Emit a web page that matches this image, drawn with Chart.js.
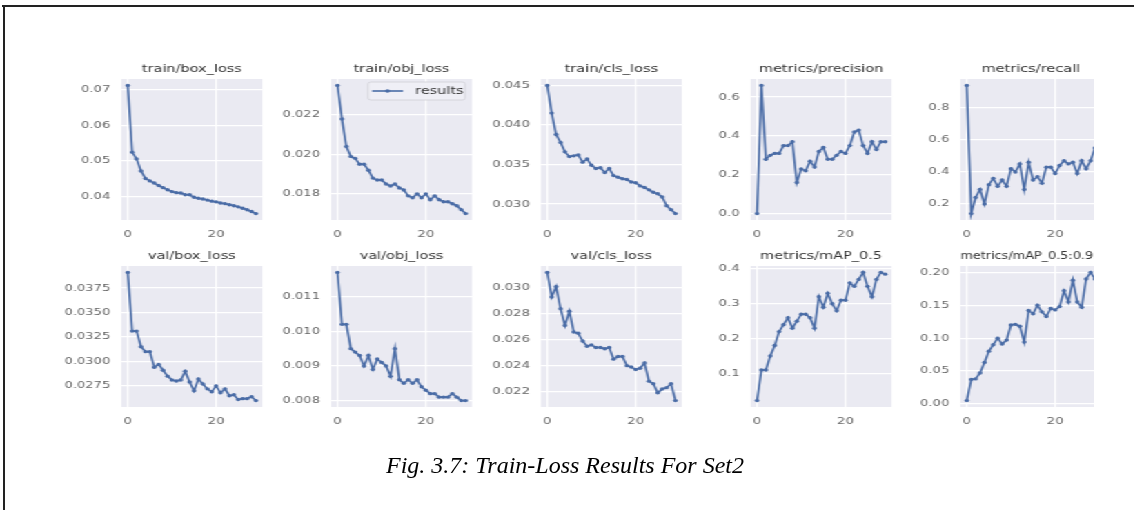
<!DOCTYPE html>
<html><head><meta charset="utf-8">
<script src="https://cdn.jsdelivr.net/npm/chart.js@4.4.1/dist/chart.umd.min.js"></script>
<style>
html,body{margin:0;padding:0;background:#fff;width:1134px;height:510px;overflow:hidden;position:relative;}
#frameTop{position:absolute;left:2px;top:5px;width:1132px;height:2px;background:#222;}
#frameLeft{position:absolute;left:3px;top:5px;width:2px;height:505px;background:#222;}
#fig{position:absolute;left:0;top:0;height:510px;overflow:hidden;transform-origin:0 0;}
#fig canvas{position:absolute;}
#caption{position:absolute;left:0;width:1130px;top:451px;text-align:center;font-family:'Liberation Serif',serif;font-style:italic;font-size:24px;line-height:28px;color:#000;}
</style></head><body>
<div id="frameTop"></div><div id="frameLeft"></div>
<div id="fig"></div>
<div id="caption">Fig. 3.7: Train-Loss Results For Set2</div>
<script>
const epochs = [0,1,2,3,4,5,6,7,8,9,10,11,12,13,14,15,16,17,18,19,20,21,22,23,24,25,26,27,28,29];
const xTickLabels = ['0','20'];

const titles = ['train/box_loss','train/obj_loss','train/cls_loss','metrics/precision','metrics/recall',
                'val/box_loss','val/obj_loss','val/cls_loss','metrics/mAP_0.5','metrics/mAP_0.5:0.95'];
const seriesLabel = 'results';

const trainBoxLoss = [0.0712,0.0524,0.0505,0.0471,0.0450,0.0443,0.0437,0.0430,0.0424,0.0418,0.0413,0.0410,0.0409,0.0404,0.0404,0.0397,0.0394,0.0392,0.0389,0.0386,0.0384,0.0381,0.0379,0.0376,0.0373,0.0370,0.0366,0.0362,0.0357,0.0351];
const trainObjLoss = [0.0235,0.0218,0.0204,0.0199,0.0198,0.0195,0.0195,0.0192,0.0188,0.0187,0.0187,0.0185,0.0184,0.0185,0.0183,0.0182,0.0179,0.0178,0.0180,0.0178,0.0180,0.0177,0.0179,0.0177,0.0176,0.0176,0.0175,0.0174,0.0172,0.0170];
const trainClsLoss = [0.0450,0.0415,0.0388,0.0378,0.0366,0.0360,0.0361,0.0362,0.0353,0.0357,0.0349,0.0345,0.0346,0.0340,0.0345,0.0336,0.0334,0.0332,0.0331,0.0328,0.0327,0.0323,0.0321,0.0318,0.0315,0.0313,0.0309,0.0298,0.0293,0.0288];
const precision = [0.0,0.66,0.28,0.30,0.31,0.31,0.35,0.35,0.37,0.16,0.23,0.22,0.27,0.24,0.32,0.34,0.28,0.28,0.30,0.32,0.31,0.35,0.42,0.43,0.35,0.31,0.37,0.33,0.37,0.37];
const recall = [0.94,0.14,0.24,0.29,0.20,0.32,0.36,0.31,0.35,0.31,0.42,0.40,0.45,0.29,0.46,0.35,0.37,0.33,0.43,0.43,0.39,0.44,0.47,0.45,0.46,0.39,0.47,0.42,0.47,0.55];
const valBoxLoss = [0.0391,0.0331,0.0331,0.0315,0.0310,0.0310,0.0294,0.0297,0.0291,0.0285,0.0281,0.0280,0.0281,0.0290,0.0279,0.0270,0.0282,0.0277,0.0272,0.0269,0.0275,0.0268,0.0272,0.0265,0.0266,0.0261,0.0262,0.0262,0.0264,0.0260];
const valObjLoss = [0.0117,0.0102,0.0102,0.0095,0.0094,0.0093,0.0090,0.0093,0.0089,0.0092,0.0091,0.0090,0.0087,0.0095,0.0086,0.0085,0.0086,0.0085,0.0086,0.0084,0.0083,0.0082,0.0082,0.0081,0.0081,0.0081,0.0082,0.0081,0.0080,0.0080];
const valClsLoss = [0.0312,0.0293,0.0301,0.0284,0.0271,0.0282,0.0266,0.0265,0.0259,0.0255,0.0256,0.0254,0.0254,0.0253,0.0254,0.0245,0.0247,0.0247,0.0240,0.0239,0.0237,0.0238,0.0242,0.0228,0.0226,0.0219,0.0222,0.0223,0.0226,0.0213];
const mAP50 = [0.022,0.11,0.11,0.15,0.18,0.22,0.24,0.26,0.23,0.25,0.27,0.27,0.26,0.23,0.32,0.29,0.33,0.30,0.28,0.31,0.31,0.36,0.35,0.37,0.39,0.35,0.32,0.37,0.39,0.385];
const mAP5095 = [0.005,0.037,0.038,0.047,0.063,0.080,0.090,0.100,0.091,0.097,0.120,0.121,0.118,0.094,0.142,0.137,0.150,0.140,0.133,0.145,0.143,0.148,0.172,0.155,0.188,0.155,0.147,0.190,0.200,0.190];

const yTicksTrainBox = ['0.04','0.05','0.06','0.07'];
const yTicksTrainObj = ['0.018','0.020','0.022'];
const yTicksTrainCls = ['0.030','0.035','0.040','0.045'];
const yTicksPrecision = ['0.0','0.2','0.4','0.6'];
const yTicksRecall = ['0.2','0.4','0.6','0.8'];
const yTicksValBox = ['0.0275','0.0300','0.0325','0.0350','0.0375'];
const yTicksValObj = ['0.008','0.009','0.010','0.011'];
const yTicksValCls = ['0.022','0.024','0.026','0.028','0.030'];
const yTicksMAP50 = ['0.1','0.2','0.3','0.4'];
const yTicksMAP5095 = ['0.00','0.05','0.10','0.15','0.20'];

const seriesList = [trainBoxLoss,trainObjLoss,trainClsLoss,precision,recall,valBoxLoss,valObjLoss,valClsLoss,mAP50,mAP5095];
const yTickList = [yTicksTrainBox,yTicksTrainObj,yTicksTrainCls,yTicksPrecision,yTicksRecall,yTicksValBox,yTicksValObj,yTicksValCls,yTicksMAP50,yTicksMAP5095];

// ---- layout (display pixels) ----
const S = 1.38;            // horizontal stretch of the figure
const CLIP_X = 1094;       // figure cropped at the right
const colLefts = [122, 331.5, 541, 750.5, 960];
const rowTops = [79, 266];
const PW = 141, PH = 141;
const YAX = 62, RPAD = 6, TOPB = 24, BOTB = 24;
const LINE = '#4a6ca6', BG = '#eaeaf2';
const FONT = "'DejaVu Sans', sans-serif";

const fig = document.getElementById('fig');
fig.style.width = (CLIP_X / S) + 'px';
fig.style.transform = 'scaleX(' + S + ')';

const bgPlugin = {
  id: 'bg',
  beforeDraw(chart) {
    const a = chart.chartArea, ctx = chart.ctx;
    ctx.save(); ctx.fillStyle = BG; ctx.fillRect(a.left, a.top, a.right - a.left, a.bottom - a.top); ctx.restore();
  }
};
const legendPlugin = {
  id: 'boxLegend',
  afterDraw(chart) {
    const a = chart.chartArea, ctx = chart.ctx;
    const bw = 97 / S, bh = 18;
    const bx = a.right - 7 / S - bw, by = a.top + 3;
    ctx.save();
    ctx.fillStyle = 'rgba(240,240,246,0.9)'; ctx.strokeStyle = '#cfcfd6'; ctx.lineWidth = 0.8;
    ctx.beginPath();
    if (ctx.roundRect) ctx.roundRect(bx, by, bw, bh, 2); else ctx.rect(bx, by, bw, bh);
    ctx.fill(); ctx.stroke();
    const cy = by + bh / 2;
    ctx.strokeStyle = LINE; ctx.lineWidth = 1.6;
    ctx.beginPath(); ctx.moveTo(bx + 4 / S, cy); ctx.lineTo(bx + 35 / S, cy); ctx.stroke();
    ctx.fillStyle = LINE; ctx.beginPath(); ctx.arc(bx + 19.5 / S, cy, 1.7, 0, Math.PI * 2); ctx.fill();
    ctx.fillStyle = '#333'; ctx.font = '10.5px ' + FONT; ctx.textBaseline = 'middle'; ctx.textAlign = 'left';
    ctx.fillText(chart.data.datasets[0].label, bx + 47 / S, cy + 0.5);
    ctx.restore();
  }
};

seriesList.forEach((vals, i) => {
  const col = i % 5, row = Math.floor(i / 5);
  const L = colLefts[col], T = rowTops[row];
  const cv = document.createElement('canvas');
  const cw = Math.ceil((YAX + PW + RPAD) / S);
  const ch = TOPB + PH + BOTB;
  cv.width = cw; cv.height = ch;
  cv.style.width = cw + 'px'; cv.style.height = ch + 'px';
  cv.style.left = ((L - YAX) / S) + 'px';
  cv.style.top = (T - TOPB) + 'px';
  fig.appendChild(cv);

  const dmin = Math.min(...vals), dmax = Math.max(...vals), rng = dmax - dmin;
  const xmin = epochs[0], xmax = epochs[epochs.length - 1], xr = xmax - xmin;
  const labels = yTickList[i];
  const yW = YAX / S;
  const rightPad = cw - yW - PW / S;

  new Chart(cv, {
    type: 'line',
    data: { datasets: [{ label: seriesLabel, data: epochs.map((e, k) => ({ x: e, y: vals[k] })),
      borderColor: LINE, backgroundColor: LINE, borderWidth: 1.6, tension: 0,
      pointRadius: 1.7, pointBorderWidth: 0, pointBackgroundColor: LINE, fill: false }] },
    options: {
      responsive: false, animation: false, devicePixelRatio: 1,
      layout: { padding: { left: 0, right: rightPad, top: 0, bottom: 0 } },
      plugins: {
        legend: { display: false }, tooltip: { enabled: false },
        title: { display: true, text: titles[i], fullSize: false, color: '#333',
          font: { family: FONT, size: 10.5, weight: 'normal', lineHeight: 1.2 }, padding: { top: 7.7, bottom: 3.7 } }
      },
      scales: {
        x: { type: 'linear', bounds: 'data', min: xmin - 0.05 * xr, max: xmax + 0.05 * xr,
          afterBuildTicks: s => { s.ticks = xTickLabels.map(t => ({ value: parseFloat(t) })); },
          afterFit: s => { s.height = BOTB; },
          ticks: { autoSkip: false, maxRotation: 0, padding: 9, color: '#666',
            font: { family: FONT, size: 9.5, lineHeight: 1.2 }, callback: (v, k) => xTickLabels[k] },
          grid: { color: '#ffffff', lineWidth: 1.2, drawTicks: false }, border: { display: false } },
        y: { type: 'linear', bounds: 'data', min: dmin - 0.05 * rng, max: dmax + 0.05 * rng,
          afterBuildTicks: s => { s.ticks = labels.map(t => ({ value: parseFloat(t) })); },
          afterFit: s => { s.width = yW; },
          ticks: { autoSkip: false, padding: 8, color: '#666',
            font: { family: FONT, size: 9.5, lineHeight: 1.2 }, callback: (v, k) => labels[k] },
          grid: { color: '#ffffff', lineWidth: 1.2, drawTicks: false }, border: { display: false } }
      }
    },
    plugins: i === 1 ? [bgPlugin, legendPlugin] : [bgPlugin]
  });
});
</script>
</body></html>
